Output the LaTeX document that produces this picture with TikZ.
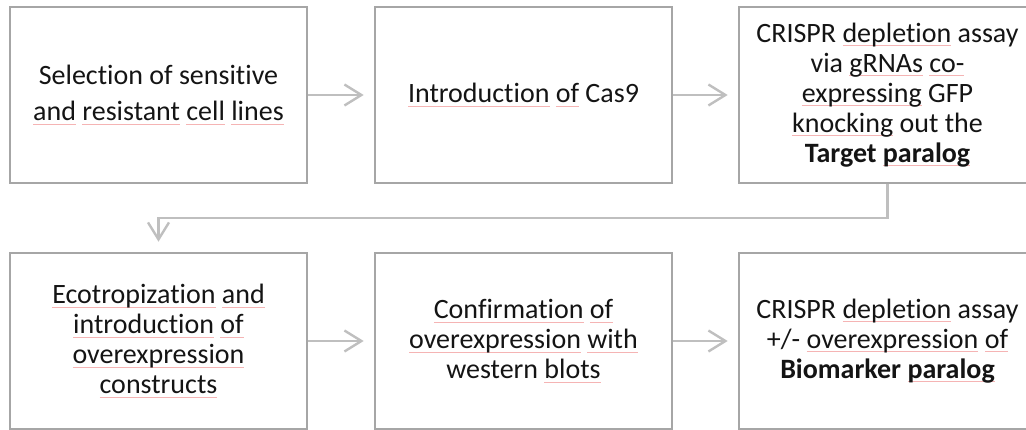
\documentclass[tikz,border=0pt]{standalone}
\usepackage{fontspec}
\setmainfont[RawFeature=-liga]{Carlito}
\usetikzlibrary{arrows.meta}
\definecolor{boxgray}{HTML}{A6A6A6}
\definecolor{arrgray}{HTML}{BFBFBF}
\definecolor{sqred}{HTML}{F5B4B4}
\definecolor{txt}{HTML}{141414}
\newsavebox\sqbox
\newcommand\sq[1]{\sbox\sqbox{#1}\leavevmode\rlap{\textcolor{sqred}{\rule[-3.8pt]{\wd\sqbox}{0.9pt}}}\usebox\sqbox}
\tikzset{
  stepbox/.style={draw=boxgray, line width=2.6pt, minimum width=297pt, minimum height=176pt,
    inner sep=0pt, align=center, text=txt, font=\fontsize{28}{30}\selectfont},
  flow/.style={draw=arrgray, line width=2.4pt, -{Straight Barb[length=17pt,width=21pt,line width=2.4pt]}, shorten >=10pt}
}
\begin{document}
\begin{tikzpicture}[x=1pt,y=-1pt]
\useasboundingbox (0,0) rectangle (1026,430);
\clip (0,0) rectangle (1026,430);
\node[stepbox, font=\fontsize{28}{36}\selectfont] (b1) at (158.5,95) {Selection of sensitive\\\sq{and} \sq{resistant} \sq{cell} \sq{lines}};
\node[stepbox] (b2) at (523.5,95) {\sq{Introduction} \sq{of} Cas9};
\node[stepbox] (b3) at (887.5,95) {CRISPR \sq{depletion} assay\\via \sq{gRNAs} \sq{co-}\\\sq{expressing} GFP\\\sq{knocking} out the\\\textbf{Target \sq{paralog}}};
\node[stepbox] (b4) at (158.5,341) {\sq{Ecotropization} \sq{and}\\\sq{introduction} \sq{of}\\\sq{overexpression}\\\sq{constructs}};
\node[stepbox] (b5) at (523.5,341) {\sq{Confirmation} \sq{of}\\\sq{overexpression} \sq{with}\\western \sq{blots}};
\node[stepbox] (b6) at (887.5,341) {CRISPR \sq{depletion} assay\\+/- \sq{overexpression} \sq{of}\\\textbf{Biomarker \sq{paralog}}};
\coordinate (e1) at (887.5,218);
\coordinate (e2) at (158.5,218);
\draw[flow] (b1.east) -- (b2.west);
\draw[flow] (b2.east) -- (b3.west);
\draw[flow] (b3.south) -- (e1) -- (e2) -- (b4.north);
\draw[flow] (b4.east) -- (b5.west);
\draw[flow] (b5.east) -- (b6.west);
\end{tikzpicture}
\end{document}
